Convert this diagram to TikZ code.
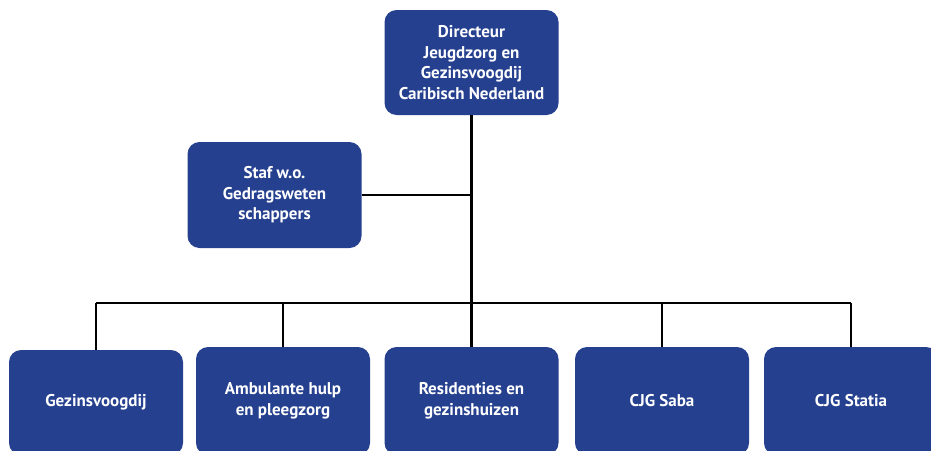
\documentclass[tikz,border=0pt]{standalone}
\usepackage{fontspec}
\setmainfont{PT Sans}
\definecolor{boxblue}{RGB}{37,64,143}
\begin{document}
\begin{tikzpicture}[x=1pt,y=-1pt,
  orgbox/.style={fill=boxblue, rounded corners=12pt, minimum width=174pt, minimum height=106pt,
    text=white, font=\bfseries\fontsize{17}{20.5}\selectfont, align=center, inner sep=0pt},
  conn/.style={draw=black, line width=2.6pt}]
\useasboundingbox (0,0) rectangle (931,450);
\clip (0,0) rectangle (931,450);
\node[orgbox, minimum height=105pt] (dir) at (471.5,62.5) {Directeur\\Jeugdzorg en\\Gezinsvoogdij\\Caribisch Nederland};
\node[orgbox] (staf) at (274.5,195) {Staf w.o.\\Gedragsweten\\schappers};
\node[orgbox, minimum height=105pt] (gez) at (96,402.5) {Gezinsvoogdij};
\node[orgbox, minimum height=108pt] (amb) at (283,401) {Ambulante hulp\\en pleegzorg};
\node[orgbox, minimum height=108pt] (res) at (471.5,401) {Residenties en\\gezinshuizen};
\node[orgbox, minimum height=108pt] (saba) at (662,401) {CJG Saba};
\node[orgbox, minimum height=108pt] (statia) at (851,401) {CJG Statia};
\coordinate (bus) at (471.5,303);
\draw[conn] (dir.south) -- (bus);
\draw[conn] (staf.east) -- (staf.east -| dir.south);
\draw[conn] (gez.north |- bus) -- (statia.north |- bus);
\foreach \n in {gez,amb,res,saba,statia}
  \draw[conn] (\n.north |- bus) -- (\n.north);
\end{tikzpicture}
\end{document}
